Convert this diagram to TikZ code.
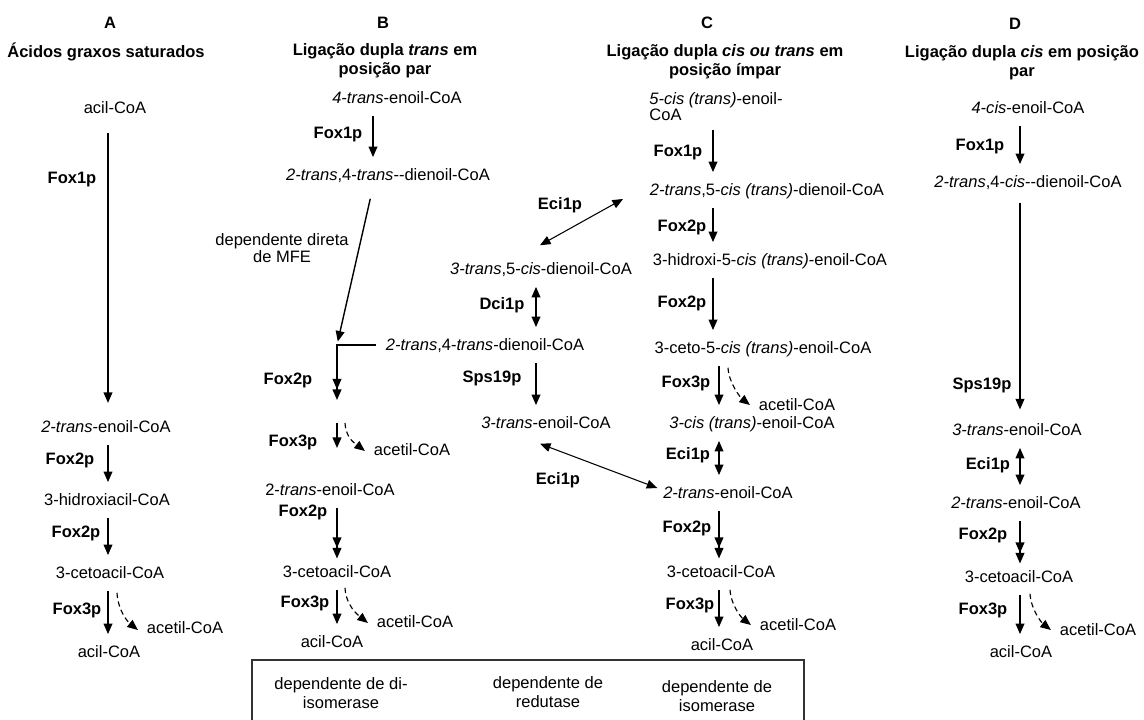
\documentclass[tikz,border=0pt]{standalone}
\usepackage{fontspec}
\setmainfont{Liberation Sans}
\usetikzlibrary{arrows.meta,calc}

\begin{document}
\begin{tikzpicture}[x=0.02cm, y=-0.02cm, >={Triangle[length=6pt,width=5pt]},
	every node/.style={font=\fontsize{9.4}{10.5}\selectfont, inner sep=1.5pt},
	mol/.style={text height=8pt, text depth=2pt},
	enz/.style={font=\fontsize{9.4}{10.5}\selectfont\bfseries},
	hdr/.style={font=\fontsize{9.4}{11}\selectfont\bfseries, align=center},
	rx/.style={line width=.8pt, ->, shorten <=3.5pt, shorten >=3.5pt},
	rx2/.style={line width=.8pt, ->>, shorten <=3.5pt, shorten >=1pt},
	rev/.style={line width=.8pt, <->, shorten <=3.5pt, shorten >=3.5pt},
	slant/.style={line width=.6pt, <->},
	byp/.style={line width=.65pt, dash pattern=on 3pt off 2pt, ->}]
	\useasboundingbox (0,0) rectangle (1144,720);

	\node[hdr] (hA) at (110,23) {A};
	\node[hdr] (tA) at (106,52) {Ácidos graxos saturados};
	\node[mol] (a1) at (115,108) {acil-CoA};
	\node[mol] (a2) at (106,427) {\textit{2-trans}-enoil-CoA};
	\node[mol] (a3) at (107,500) {3-hidroxiacil-CoA};
	\node[mol] (a4) at (110,573) {3-cetoacil-CoA};
	\node[mol] (a5) at (109,652) {acil-CoA};
	\node[mol] (xA) at (185,628) {acetil-CoA};
	\node[enz] (eA1) at (72,180) {Fox1p};
	\node[enz] (eA2) at (70,460) {Fox2p};
	\node[enz] (eA3) at (76,533) {Fox2p};
	\node[enz] (eA4) at (77,610) {Fox3p};
	\coordinate (cA) at (108,0);
	\draw[rx, shorten <=7.5pt, shorten >=7pt] (a1.south -| cA) -- (a2.north -| cA);
	\draw[rx] (a2.south -| cA) -- (a3.north -| cA);
	\draw[rx] (a3.south -| cA) -- (a4.north -| cA);
	\draw[rx] (a4.south -| cA) -- (a5.north -| cA);
	\draw[byp] ($(a4.south -| cA)+(9,8)$) .. controls +(1,18) and +(-10,-8) .. ($(xA.west)+(-6,2)$);

	\node[hdr] (hB) at (383,23) {B};
	\node[hdr] (tB) at (385,61) {Ligação dupla \textit{trans} em\\posição par};
	\node[mol] (b1) at (397,98) {\textit{4-trans}-enoil-CoA};
	\node[mol] (b2) at (388,175) {\textit{2-trans},4-\textit{trans}-{}-dienoil-CoA};
	\node[align=center, font=\fontsize{9.4}{9.8}\selectfont] (mfe) at (282,248) {dependente direta\\de MFE};
	\node[mol] (b3) at (330,490) {2-\textit{trans}-enoil-CoA};
	\node[mol] (b4) at (337,572) {3-cetoacil-CoA};
	\node[mol] (b5) at (332,642) {acil-CoA};
	\node[mol] (xB1) at (412,450) {acetil-CoA};
	\node[mol] (xB2) at (415,622) {acetil-CoA};
	\node[enz] (eB1) at (338,135) {Fox1p};
	\node[enz] (eB2) at (288,380) {Fox2p};
	\node[enz] (eB3) at (293,442) {Fox3p};
	\node[enz] (eB4) at (303,512) {Fox2p};
	\node[enz] (eB5) at (305,603) {Fox3p};
	\coordinate (cB0) at (373,0);
	\coordinate (cB) at (337,0);
	\coordinate (gB1) at (337,400);
	\coordinate (gB2) at (337,423);
	\coordinate (gB3) at (337,448);

	\node[mol] (m1) at (541,269) {\textit{3-trans},5-\textit{cis}-dienoil-CoA};
	\node[mol] (m2) at (485,345) {\textit{2-trans},4-\textit{trans}-dienoil-CoA};
	\node[mol] (m3) at (546,423) {\textit{3-trans}-enoil-CoA};
	\node[enz] (eM1) at (560,205) {Eci1p};
	\node[enz] (eM2) at (502,305) {Dci1p};
	\node[enz] (eM3) at (492,378) {Sps19p};
	\node[enz] (eM4) at (558,480) {Eci1p};
	\coordinate (cM) at (536,0);
	\coordinate (jB) at (m2.west -| cB);

	\draw[rx] (b1.south -| cB0) -- (b2.north -| cB0);
	\draw[rx, shorten <=7pt, shorten >=2pt] (b2.south -| cB0) -- (jB);
	\draw[rx2, shorten <=4pt, shorten >=0pt] (m2.west) -- (jB) -- (gB1);
	\draw[rx, shorten <=0pt, shorten >=0pt] (gB2) -- (gB3);
	\draw[byp] ($(gB2)+(8,0)$) .. controls +(1,16) and +(-9,-7) .. ($(xB1.west)+(-6,1)$);
	\draw[rx2] (b3.south -| cB) -- (b4.north -| cB);
	\draw[rx] (b4.south -| cB) -- (b5.north -| cB);
	\draw[byp] ($(b4.south -| cB)+(8,4)$) .. controls +(1,18) and +(-10,-8) .. ($(xB2.west)+(-6,1)$);

	\node[hdr] (hC) at (707,23) {C};
	\node[hdr] (tC) at (725,62) {Ligação dupla \textit{cis ou trans} em\\posição ímpar};
	\node[align=left, font=\fontsize{9.4}{9}\selectfont] (c0) at (716,107) {\textit{5-cis (trans)}-enoil-\\CoA};
	\node[mol] (c1) at (767,190) {\textit{2-trans},5-\textit{cis (trans)}-dienoil-CoA};
	\node[mol] (c2) at (770,260) {3-hidroxi-5-\textit{cis (trans)}-enoil-CoA};
	\node[mol] (c3) at (763,348) {3-ceto-5-\textit{cis (trans)}-enoil-CoA};
	\node[mol] (c4) at (752,423) {\textit{3-cis (trans)}-enoil-CoA};
	\node[mol] (c5) at (728,493) {\textit{2-trans}-enoil-CoA};
	\node[mol] (c6) at (721,572) {3-cetoacil-CoA};
	\node[mol] (c7) at (722,645) {acil-CoA};
	\node[mol] (xC1) at (797,405) {acetil-CoA};
	\node[mol] (xC2) at (798,625) {acetil-CoA};
	\node[enz] (eC1) at (678,153) {Fox1p};
	\node[enz] (eC2) at (682,227) {Fox2p};
	\node[enz] (eC3) at (682,303) {Fox2p};
	\node[enz] (eC4) at (686,383) {Fox3p};
	\node[enz] (eC5) at (688,455) {Eci1p};
	\node[enz] (eC6) at (687,528) {Fox2p};
	\node[enz] (eC7) at (690,605) {Fox3p};
	\coordinate (cC1) at (713,0);
	\coordinate (cC2) at (719,0);
	\draw[rx] (c0.south -| cC1) -- (c1.north -| cC1);
	\draw[rx] (c1.south -| cC1) -- (c2.north -| cC1);
	\draw[rx] (c2.south -| cC1) -- (c3.north -| cC1);
	\draw[rx] (c3.south -| cC2) -- (c4.north -| cC2);
	\draw[byp] ($(c3.south -| cC2)+(9,8)$) .. controls +(1,16) and +(-9,-7) .. ($(xC1.west)+(-6,0)$);
	\draw[rev] (c4.south -| cC2) -- (c5.north -| cC2);
	\draw[rx2] (c5.south -| cC2) -- (c6.north -| cC2);
	\draw[rx] (c6.south -| cC2) -- (c7.north -| cC2);
	\draw[byp] ($(c6.south -| cC2)+(11,6)$) .. controls +(1,16) and +(-9,-7) .. ($(xC2.west)+(-6,0)$);

	\draw[rev] (m1.south -| cM) -- (m2.north -| cM);
	\draw[rx] (m2.south -| cM) -- (m3.north -| cM);
	\draw[slant] ($(m1.north)+(-1,-12)$) -- ($(c1.west)+(-24,9)$);
	\draw[slant] ($(m3.south)+(-6,9)$) -- ($(c5.west)+(-3,-5)$);

	\node[hdr] (hD) at (1015,24) {D};
	\node[hdr] (tD) at (1022,63) {Ligação dupla \textit{cis} em posição\\par};
	\node[mol] (d1) at (1028,108) {\textit{4-cis}-enoil-CoA};
	\node[mol] (d2) at (1028,182) {\textit{2-trans},4-\textit{cis}-{}-dienoil-CoA};
	\node[mol] (d3) at (1017,430) {\textit{3-trans}-enoil-CoA};
	\node[mol] (d4) at (1016,503) {\textit{2-trans}-enoil-CoA};
	\node[mol] (d5) at (1019,577) {3-cetoacil-CoA};
	\node[mol] (d6) at (1021,652) {acil-CoA};
	\node[mol] (xD) at (1098,630) {acetil-CoA};
	\node[enz] (eD1) at (980,147) {Fox1p};
	\node[enz] (eD2) at (982,385) {Sps19p};
	\node[enz] (eD3) at (988,465) {Eci1p};
	\node[enz] (eD4) at (983,535) {Fox2p};
	\node[enz] (eD5) at (983,610) {Fox3p};
	\coordinate (cD) at (1020,0);
	\draw[rx] (d1.south -| cD) -- (d2.north -| cD);
	\draw[rx, shorten <=5pt, shorten >=5pt] (d2.south -| cD) -- (d3.north -| cD);
	\draw[rev] (d3.south -| cD) -- (d4.north -| cD);
	\draw[rx2] (d4.south -| cD) -- (d5.north -| cD);
	\draw[rx] (d5.south -| cD) -- (d6.north -| cD);
	\draw[byp] ($(d5.south -| cD)+(10,5)$) .. controls +(1,16) and +(-9,-7) .. ($(xD.west)+(-6,0)$);

	\draw[line width=.9pt, black!80] (252,722) -- (252,660) -- (804,660) -- (804,722);
	\node[align=center] (k1) at (341,693) {dependente de di-\\isomerase};
	\node[align=center] (k2) at (548,692) {dependente de\\redutase};
	\node[align=center] (k3) at (717,696) {dependente de\\isomerase};
\end{tikzpicture}
\end{document}
